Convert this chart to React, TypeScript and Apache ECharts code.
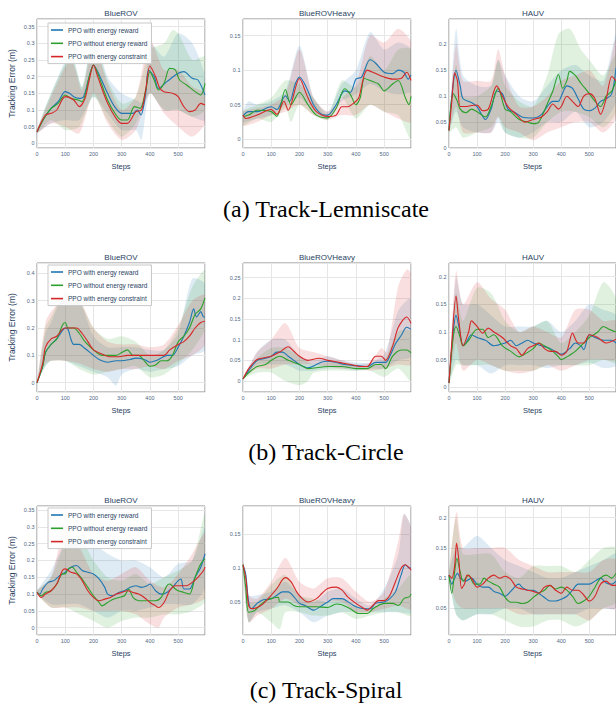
import React, { useEffect, useRef } from "react";
import * as echarts from "echarts";

type Pt = [number, number];

// ---------- (a) Track-Lemniscate ----------
const lemRovRew: Pt[] = [[0,0.035],[25,0.075],[50,0.105],[75,0.125],[100,0.155],[115,0.15],[130,0.14],[150,0.135],[165,0.14],[185,0.2],[200,0.235],[215,0.215],[250,0.15],[275,0.11],[300,0.09],[340,0.09],[355,0.1],[368,0.085],[385,0.15],[395,0.22],[415,0.2],[430,0.165],[460,0.185],[500,0.21],[520,0.215],[550,0.195],[570,0.19],[595,0.145]];
const lemRovNo: Pt[] = [[0,0.035],[25,0.075],[50,0.105],[75,0.12],[100,0.145],[120,0.135],[145,0.13],[160,0.125],[185,0.2],[200,0.235],[215,0.21],[250,0.13],[280,0.085],[300,0.07],[320,0.07],[345,0.11],[365,0.105],[385,0.16],[400,0.215],[415,0.19],[430,0.16],[450,0.18],[470,0.225],[490,0.22],[505,0.19],[530,0.175],[560,0.155],[580,0.145],[595,0.18]];
const lemRovCon: Pt[] = [[0,0.035],[30,0.085],[50,0.09],[70,0.1],[100,0.14],[130,0.13],[150,0.11],[170,0.135],[185,0.19],[200,0.235],[215,0.2],[250,0.12],[280,0.075],[300,0.06],[320,0.06],[350,0.095],[370,0.1],[385,0.16],[400,0.232],[420,0.2],[435,0.165],[450,0.155],[480,0.15],[500,0.14],[520,0.11],[540,0.095],[560,0.1],[580,0.12],[595,0.115]];
const lemRovRewHi: Pt[] = [[0,0.04],[50,0.15],[120,0.27],[160,0.17],[200,0.33],[250,0.2],[300,0.15],[350,0.13],[380,0.12],[400,0.3],[450,0.26],[500,0.33],[550,0.3],[595,0.2]];
const lemRovRewLo: Pt[] = [[0,0.03],[50,0.06],[100,0.07],[150,0.07],[200,0.14],[250,0.09],[300,0.04],[350,0.04],[370,0.01],[400,0.15],[450,0.1],[500,0.1],[550,0.08],[595,0.07]];
const lemRovNoHi: Pt[] = [[0,0.04],[50,0.15],[120,0.26],[160,0.17],[200,0.32],[250,0.19],[300,0.12],[350,0.14],[400,0.28],[450,0.3],[480,0.34],[500,0.33],[550,0.25],[595,0.26]];
const lemRovNoLo: Pt[] = [[0,0.03],[50,0.07],[100,0.04],[150,0.05],[200,0.14],[250,0.07],[300,0.02],[350,0.06],[400,0.15],[450,0.1],[500,0.1],[550,0.08],[595,0.1]];
const lemRovConHi: Pt[] = [[0,0.04],[50,0.14],[120,0.25],[160,0.16],[200,0.3],[250,0.18],[300,0.1],[350,0.14],[400,0.31],[450,0.22],[500,0.22],[550,0.17],[595,0.15]];
const lemRovConLo: Pt[] = [[0,0.03],[50,0.06],[100,0.05],[150,0.03],[200,0.15],[250,0.06],[300,0.01],[350,0.04],[400,0.15],[450,0.09],[500,0.05],[550,0.02],[595,0.06]];

const lemHvyRew: Pt[] = [[0,0.034],[20,0.04],[50,0.04],[100,0.047],[120,0.043],[150,0.063],[165,0.055],[185,0.08],[200,0.09],[230,0.07],[250,0.05],[280,0.036],[300,0.035],[330,0.05],[360,0.07],[380,0.068],[400,0.087],[420,0.09],[450,0.115],[470,0.11],[500,0.097],[530,0.095],[550,0.1],[570,0.097],[585,0.087],[595,0.093]];
const lemHvyNo: Pt[] = [[0,0.033],[20,0.035],[50,0.042],[100,0.04],[120,0.033],[150,0.072],[170,0.05],[200,0.068],[230,0.05],[260,0.035],[300,0.031],[330,0.045],[360,0.073],[380,0.065],[400,0.05],[415,0.06],[430,0.088],[450,0.085],[480,0.08],[500,0.07],[530,0.08],[550,0.085],[575,0.06],[588,0.05],[595,0.062]];
const lemHvyCon: Pt[] = [[0,0.035],[10,0.03],[50,0.035],[100,0.043],[120,0.036],[145,0.055],[160,0.042],[200,0.088],[230,0.06],[260,0.04],[300,0.033],[330,0.035],[350,0.047],[370,0.047],[400,0.055],[410,0.06],[440,0.1],[470,0.095],[500,0.09],[530,0.087],[560,0.088],[580,0.097],[595,0.085]];
const lemHvyRewHi: Pt[] = [[0,0.04],[20,0.055],[50,0.05],[100,0.055],[150,0.07],[200,0.135],[250,0.06],[300,0.04],[350,0.08],[400,0.1],[450,0.155],[500,0.13],[550,0.14],[595,0.13]];
const lemHvyRewLo: Pt[] = [[0,0.025],[50,0.03],[100,0.035],[150,0.05],[200,0.06],[250,0.04],[300,0.03],[350,0.055],[400,0.065],[450,0.08],[500,0.07],[550,0.065],[595,0.07]];
const lemHvyNoHi: Pt[] = [[0,0.04],[50,0.05],[100,0.06],[150,0.085],[200,0.08],[250,0.06],[300,0.035],[350,0.085],[400,0.075],[450,0.12],[500,0.1],[550,0.13],[595,0.13]];
const lemHvyNoLo: Pt[] = [[0,0.02],[50,0.03],[100,0.025],[150,0.045],[170,0.025],[200,0.05],[250,0.035],[300,0.028],[350,0.06],[400,0.03],[450,0.05],[500,0.04],[550,0.035],[580,0.01],[595,0.0]];
const lemHvyConHi: Pt[] = [[0,0.04],[50,0.045],[100,0.05],[150,0.065],[200,0.13],[250,0.06],[300,0.04],[350,0.06],[400,0.08],[450,0.15],[500,0.14],[550,0.16],[595,0.14]];
const lemHvyConLo: Pt[] = [[0,0.02],[50,0.025],[100,0.035],[150,0.04],[200,0.05],[250,0.035],[300,0.028],[350,0.035],[400,0.035],[450,0.05],[500,0.04],[550,0.03],[595,0.025]];

const lemHauvRew: Pt[] = [[0,0.034],[10,0.1],[25,0.15],[40,0.12],[50,0.095],[80,0.088],[100,0.08],[130,0.055],[150,0.075],[170,0.11],[190,0.105],[210,0.075],[230,0.07],[260,0.06],[300,0.058],[330,0.065],[350,0.08],[370,0.09],[390,0.09],[400,0.1],[420,0.12],[440,0.115],[460,0.095],[480,0.075],[500,0.072],[520,0.077],[540,0.09],[560,0.095],[580,0.105],[595,0.155]];
const lemHauvNo: Pt[] = [[0,0.034],[15,0.105],[30,0.09],[40,0.075],[60,0.068],[80,0.075],[100,0.07],[130,0.06],[150,0.08],[175,0.115],[200,0.075],[220,0.07],[250,0.055],[280,0.05],[300,0.047],[320,0.05],[350,0.085],[370,0.11],[390,0.142],[405,0.115],[420,0.13],[430,0.148],[450,0.14],[470,0.125],[500,0.105],[520,0.09],[540,0.08],[560,0.1],[580,0.11],[595,0.13]];
const lemHauvCon: Pt[] = [[0,0.034],[10,0.09],[20,0.145],[30,0.13],[40,0.08],[60,0.08],[80,0.082],[100,0.083],[120,0.072],[140,0.075],[170,0.12],[190,0.1],[210,0.08],[240,0.065],[270,0.05],[300,0.055],[330,0.06],[350,0.07],[370,0.085],[390,0.075],[400,0.08],[420,0.1],[440,0.09],[460,0.08],[480,0.1],[500,0.105],[520,0.095],[540,0.065],[560,0.095],[580,0.138],[595,0.13]];
const lemHauvRewHi: Pt[] = [[0,0.04],[25,0.23],[50,0.14],[100,0.12],[150,0.12],[175,0.17],[200,0.14],[250,0.1],[300,0.09],[350,0.12],[400,0.15],[450,0.16],[500,0.14],[550,0.13],[595,0.22]];
const lemHauvRewLo: Pt[] = [[0,0.03],[25,0.07],[50,0.04],[100,0.03],[150,0.03],[175,0.05],[200,0.03],[250,0.02],[300,0.03],[350,0.05],[400,0.05],[450,0.07],[500,0.04],[550,0.05],[595,0.09]];
const lemHauvNoHi: Pt[] = [[0,0.04],[25,0.16],[50,0.1],[100,0.1],[150,0.12],[175,0.17],[200,0.12],[250,0.09],[300,0.08],[350,0.14],[390,0.22],[430,0.23],[470,0.19],[500,0.17],[550,0.14],[595,0.18]];
const lemHauvNoLo: Pt[] = [[0,0.03],[25,0.04],[50,0.02],[100,0.03],[150,0.04],[175,0.06],[200,0.03],[250,0.02],[300,0.02],[350,0.05],[400,0.07],[450,0.07],[500,0.06],[550,0.04],[595,0.07]];
const lemHauvConHi: Pt[] = [[0,0.04],[25,0.2],[50,0.13],[100,0.13],[150,0.13],[175,0.19],[200,0.14],[250,0.08],[300,0.08],[350,0.1],[400,0.13],[450,0.14],[500,0.15],[550,0.12],[595,0.21]];
const lemHauvConLo: Pt[] = [[0,0.03],[25,0.08],[50,0.03],[100,0.03],[150,0.03],[175,0.06],[200,0.04],[250,0.03],[300,0.015],[350,0.03],[400,0.04],[450,0.05],[500,0.05],[550,0.03],[595,0.06]];

// ---------- (b) Track-Circle ----------
const cirRovRew: Pt[] = [[0,0],[20,0.06],[30,0.11],[50,0.14],[70,0.16],[90,0.19],[100,0.2],[110,0.195],[120,0.16],[130,0.14],[150,0.14],[170,0.125],[200,0.1],[220,0.085],[250,0.075],[280,0.08],[300,0.08],[330,0.085],[350,0.09],[380,0.085],[400,0.075],[420,0.08],[440,0.09],[460,0.1],[480,0.1],[500,0.13],[520,0.17],[540,0.22],[555,0.27],[565,0.24],[580,0.26],[590,0.24],[595,0.24]];
const cirRovNo: Pt[] = [[0,0],[20,0.06],[30,0.11],[50,0.14],[70,0.16],[90,0.21],[100,0.22],[110,0.2],[130,0.2],[150,0.18],[170,0.15],[200,0.12],[230,0.1],[250,0.1],[280,0.1],[300,0.11],[320,0.12],[340,0.1],[360,0.1],[380,0.08],[400,0.06],[420,0.065],[440,0.08],[460,0.08],[480,0.1],[500,0.15],[520,0.17],[540,0.2],[560,0.25],[580,0.27],[595,0.31]];
const cirRovCon: Pt[] = [[0,0],[20,0.07],[30,0.13],[50,0.16],[70,0.17],[90,0.195],[100,0.2],[120,0.2],[140,0.2],[160,0.18],[180,0.15],[200,0.12],[230,0.105],[260,0.095],[290,0.095],[320,0.1],[350,0.1],[380,0.1],[400,0.1],[430,0.1],[450,0.1],[470,0.12],[500,0.14],[520,0.15],[540,0.17],[560,0.2],[580,0.22],[595,0.225]];
const cirRovRewHi: Pt[] = [[0,0],[30,0.18],[50,0.22],[100,0.33],[150,0.3],[200,0.17],[250,0.13],[300,0.13],[350,0.13],[400,0.12],[450,0.12],[500,0.18],[550,0.38],[595,0.36]];
const cirRovRewLo: Pt[] = [[0,0],[30,0.06],[50,0.08],[100,0.08],[150,0.06],[200,0.04],[250,0.02],[280,-0.01],[300,0.03],[350,0.05],[400,0.04],[450,0.05],[500,0.06],[550,0.1],[595,0.12]];
const cirRovNoHi: Pt[] = [[0,0],[30,0.2],[50,0.24],[100,0.33],[150,0.3],[200,0.2],[250,0.16],[300,0.17],[350,0.15],[400,0.1],[450,0.12],[500,0.2],[550,0.35],[595,0.41]];
const cirRovNoLo: Pt[] = [[0,0],[30,0.06],[50,0.08],[100,0.08],[150,0.05],[200,0.03],[250,0.04],[300,0.05],[350,0.06],[400,0.02],[450,0.03],[500,0.07],[550,0.12],[595,0.2]];
const cirRovConHi: Pt[] = [[0,0],[30,0.22],[50,0.26],[100,0.31],[150,0.3],[200,0.2],[250,0.15],[300,0.14],[350,0.14],[400,0.13],[450,0.14],[500,0.21],[550,0.3],[595,0.32]];
const cirRovConLo: Pt[] = [[0,0],[30,0.07],[50,0.08],[100,0.08],[150,0.07],[200,0.05],[250,0.04],[300,0.05],[350,0.05],[400,0.06],[450,0.05],[500,0.08],[550,0.1],[595,0.14]];

const cirHvyRew: Pt[] = [[0,0.005],[20,0.025],[50,0.05],[80,0.055],[100,0.06],[120,0.07],[140,0.07],[160,0.06],[180,0.05],[200,0.04],[230,0.032],[260,0.04],[280,0.046],[300,0.048],[330,0.045],[360,0.04],[400,0.037],[440,0.035],[470,0.045],[490,0.045],[505,0.045],[520,0.06],[540,0.09],[560,0.11],[580,0.13],[595,0.125]];
const cirHvyNo: Pt[] = [[0,0.005],[20,0.02],[50,0.035],[80,0.04],[100,0.05],[130,0.06],[160,0.05],[200,0.04],[230,0.03],[260,0.032],[300,0.035],[350,0.035],[400,0.03],[440,0.03],[470,0.04],[490,0.04],[505,0.03],[530,0.06],[560,0.075],[580,0.075],[595,0.068]];
const cirHvyCon: Pt[] = [[0,0.005],[20,0.03],[50,0.052],[80,0.057],[100,0.06],[130,0.07],[160,0.083],[180,0.072],[200,0.06],[230,0.05],[270,0.055],[300,0.05],[340,0.045],[380,0.04],[420,0.035],[440,0.035],[470,0.06],[490,0.06],[505,0.05],[530,0.085],[550,0.13],[580,0.155],[595,0.14]];
const cirHvyRewHi: Pt[] = [[0,0.005],[50,0.07],[100,0.1],[150,0.1],[200,0.06],[250,0.05],[300,0.06],[350,0.05],[400,0.045],[450,0.045],[500,0.065],[550,0.17],[595,0.2]];
const cirHvyRewLo: Pt[] = [[0,0.005],[50,0.04],[100,0.04],[150,0.04],[200,0.025],[250,0.025],[300,0.03],[350,0.03],[400,0.025],[450,0.03],[500,0.03],[550,0.05],[595,0.06]];
const cirHvyNoHi: Pt[] = [[0,0.005],[50,0.055],[100,0.08],[150,0.08],[200,0.06],[250,0.04],[300,0.045],[350,0.045],[400,0.04],[450,0.035],[500,0.05],[550,0.12],[595,0.12]];
const cirHvyNoLo: Pt[] = [[0,0.005],[50,0.02],[100,0.02],[150,0.0],[200,-0.01],[230,0.0],[250,0.02],[300,0.025],[350,0.025],[400,0.025],[450,0.025],[500,0.01],[550,0.03],[595,0.0]];
const cirHvyConHi: Pt[] = [[0,0.005],[50,0.07],[100,0.1],[150,0.14],[200,0.08],[250,0.07],[300,0.06],[350,0.05],[400,0.04],[450,0.045],[490,0.08],[510,0.07],[550,0.23],[580,0.27],[595,0.26]];
const cirHvyConLo: Pt[] = [[0,0.005],[50,0.03],[100,0.03],[150,0.04],[200,0.04],[250,0.04],[300,0.035],[350,0.03],[400,0.03],[450,0.025],[500,0.03],[550,0.04],[595,0.04]];

const cirHauvRew: Pt[] = [[0,0.008],[15,0.1],[25,0.13],[35,0.11],[50,0.075],[60,0.08],[80,0.095],[100,0.09],[130,0.085],[160,0.075],[200,0.08],[220,0.085],[240,0.075],[260,0.08],[280,0.085],[300,0.08],[330,0.075],[360,0.07],[400,0.06],[430,0.07],[450,0.08],[470,0.075],[480,0.068],[500,0.095],[520,0.09],[550,0.085],[580,0.085],[595,0.08]];
const cirHauvNo: Pt[] = [[0,0.008],[15,0.09],[25,0.11],[40,0.09],[50,0.075],[70,0.085],[100,0.105],[120,0.105],[140,0.09],[160,0.095],[190,0.075],[220,0.065],[250,0.055],[270,0.06],[300,0.07],[320,0.08],[340,0.075],[370,0.065],[390,0.055],[400,0.05],[420,0.055],[450,0.065],[480,0.08],[500,0.09],[530,0.1],[550,0.11],[570,0.105],[595,0.1]];
const cirHauvCon: Pt[] = [[0,0.008],[10,0.08],[25,0.165],[35,0.12],[50,0.075],[70,0.1],[80,0.12],[100,0.11],[120,0.098],[140,0.107],[160,0.1],[190,0.09],[220,0.075],[240,0.07],[260,0.058],[280,0.07],[300,0.075],[320,0.08],[340,0.07],[360,0.065],[380,0.065],[400,0.058],[420,0.065],[440,0.098],[460,0.08],[480,0.08],[500,0.095],[530,0.09],[560,0.08],[595,0.087]];
const cirHauvRewHi: Pt[] = [[0,0.01],[25,0.2],[50,0.15],[100,0.15],[150,0.13],[200,0.11],[250,0.11],[300,0.11],[350,0.12],[400,0.1],[450,0.12],[500,0.15],[550,0.14],[595,0.13]];
const cirHauvRewLo: Pt[] = [[0,0.005],[25,0.05],[50,0.04],[100,0.04],[150,0.025],[200,0.04],[250,0.04],[300,0.04],[350,0.035],[400,0.04],[450,0.04],[500,0.045],[550,0.035],[595,0.04]];
const cirHauvNoHi: Pt[] = [[0,0.01],[25,0.17],[50,0.12],[100,0.18],[150,0.17],[200,0.12],[250,0.1],[300,0.11],[350,0.12],[400,0.08],[450,0.1],[500,0.13],[550,0.19],[595,0.16]];
const cirHauvNoLo: Pt[] = [[0,0.005],[25,0.04],[50,0.04],[100,0.04],[150,0.04],[200,0.03],[250,0.03],[300,0.03],[350,0.04],[400,0.04],[450,0.04],[500,0.04],[550,0.05],[595,0.045]];
const cirHauvConHi: Pt[] = [[0,0.01],[25,0.21],[50,0.15],[100,0.19],[150,0.16],[200,0.14],[250,0.1],[300,0.11],[350,0.1],[400,0.09],[450,0.14],[500,0.14],[550,0.12],[595,0.12]];
const cirHauvConLo: Pt[] = [[0,0.005],[25,0.08],[50,0.03],[100,0.05],[150,0.04],[200,0.03],[250,0.025],[300,0.03],[350,0.04],[400,0.03],[450,0.04],[500,0.05],[550,0.05],[595,0.05]];

// ---------- (c) Track-Spiral ----------
const spiRovRew: Pt[] = [[0,0.105],[10,0.1],[20,0.115],[40,0.135],[60,0.14],[80,0.155],[100,0.165],[120,0.18],[140,0.185],[160,0.17],[180,0.165],[200,0.16],[220,0.145],[240,0.12],[250,0.1],[270,0.095],[290,0.105],[310,0.11],[330,0.12],[350,0.125],[370,0.12],[390,0.125],[400,0.13],[420,0.11],[440,0.1],[460,0.105],[480,0.12],[500,0.14],[510,0.145],[520,0.115],[540,0.115],[560,0.15],[580,0.18],[595,0.22]];
const spiRovNo: Pt[] = [[0,0.105],[15,0.095],[30,0.105],[50,0.11],[70,0.13],[90,0.16],[100,0.16],[110,0.175],[125,0.18],[140,0.165],[160,0.145],[180,0.12],[200,0.095],[220,0.075],[230,0.065],[250,0.075],[270,0.085],[290,0.09],[310,0.095],[325,0.115],[340,0.09],[360,0.08],[380,0.08],[400,0.08],[420,0.08],[440,0.09],[460,0.125],[470,0.13],[490,0.115],[500,0.11],[520,0.105],[540,0.1],[560,0.15],[580,0.19],[595,0.205]];
const spiRovCon: Pt[] = [[0,0.105],[15,0.09],[30,0.1],[50,0.11],[70,0.13],[90,0.17],[100,0.175],[120,0.165],[140,0.16],[160,0.14],[180,0.11],[200,0.09],[220,0.08],[240,0.085],[260,0.09],[280,0.1],[300,0.105],[320,0.11],[340,0.105],[360,0.1],[380,0.09],[400,0.075],[420,0.065],[430,0.06],[450,0.075],[470,0.11],[490,0.125],[510,0.125],[530,0.125],[550,0.135],[570,0.15],[590,0.17],[595,0.18]];
const spiRovRewHi: Pt[] = [[0,0.11],[50,0.17],[100,0.25],[150,0.26],[200,0.25],[250,0.22],[300,0.2],[350,0.2],[400,0.18],[450,0.15],[500,0.19],[550,0.2],[595,0.3]];
const spiRovRewLo: Pt[] = [[0,0.1],[50,0.07],[100,0.07],[150,0.07],[200,0.05],[250,0.03],[300,0.05],[350,0.05],[400,0.06],[450,0.07],[500,0.07],[550,0.07],[595,0.12]];
const spiRovNoHi: Pt[] = [[0,0.11],[50,0.15],[100,0.25],[150,0.27],[200,0.2],[250,0.15],[300,0.14],[350,0.16],[400,0.13],[450,0.15],[500,0.17],[550,0.2],[595,0.34]];
const spiRovNoLo: Pt[] = [[0,0.1],[50,0.06],[100,0.06],[150,0.04],[200,0.02],[250,0.0],[300,0.02],[350,0.03],[400,0.03],[450,0.04],[500,0.04],[550,0.05],[595,0.08]];
const spiRovConHi: Pt[] = [[0,0.11],[50,0.15],[100,0.3],[150,0.24],[200,0.16],[250,0.14],[300,0.16],[350,0.18],[400,0.14],[450,0.12],[500,0.16],[550,0.22],[595,0.28]];
const spiRovConLo: Pt[] = [[0,0.1],[50,0.06],[100,0.06],[150,0.06],[200,0.05],[250,0.05],[300,0.05],[350,0.04],[400,0.01],[430,0.0],[450,0.03],[500,0.06],[550,0.07],[595,0.09]];

const spiHvyRew: Pt[] = [[0,0.105],[10,0.09],[20,0.05],[30,0.04],[50,0.048],[70,0.053],[100,0.055],[120,0.06],[140,0.065],[160,0.065],[180,0.058],[200,0.048],[220,0.045],[250,0.038],[280,0.045],[300,0.05],[320,0.055],[350,0.055],[380,0.048],[400,0.043],[430,0.04],[450,0.04],[470,0.048],[500,0.05],[520,0.055],[540,0.065],[560,0.09],[575,0.105],[590,0.1],[595,0.1]];
const spiHvyNo: Pt[] = [[0,0.105],[10,0.07],[20,0.035],[40,0.037],[60,0.045],[80,0.052],[100,0.055],[125,0.057],[130,0.05],[160,0.05],[180,0.045],[200,0.043],[230,0.043],[260,0.043],[300,0.042],[330,0.047],[350,0.046],[380,0.04],[410,0.033],[440,0.033],[460,0.04],[480,0.045],[500,0.048],[530,0.048],[550,0.045],[570,0.055],[590,0.058],[595,0.062]];
const spiHvyCon: Pt[] = [[0,0.105],[10,0.085],[20,0.045],[30,0.04],[50,0.042],[70,0.047],[100,0.06],[120,0.07],[140,0.083],[150,0.086],[170,0.08],[190,0.065],[210,0.055],[230,0.05],[260,0.055],[280,0.063],[300,0.07],[330,0.072],[350,0.068],[370,0.058],[400,0.048],[430,0.04],[440,0.038],[460,0.045],[480,0.052],[500,0.052],[520,0.06],[540,0.08],[560,0.1],[575,0.105],[590,0.1],[595,0.097]];
const spiHvyRewHi: Pt[] = [[0,0.11],[20,0.06],[50,0.06],[100,0.065],[150,0.08],[200,0.06],[250,0.05],[300,0.065],[350,0.07],[400,0.055],[450,0.045],[500,0.07],[550,0.12],[570,0.18],[595,0.16]];
const spiHvyRewLo: Pt[] = [[0,0.1],[20,0.02],[50,0.035],[100,0.04],[150,0.045],[200,0.035],[250,0.02],[300,0.03],[350,0.035],[400,0.035],[450,0.035],[500,0.035],[550,0.035],[595,0.035]];
const spiHvyNoHi: Pt[] = [[0,0.11],[20,0.05],[50,0.05],[100,0.075],[150,0.09],[200,0.06],[250,0.055],[300,0.05],[350,0.055],[400,0.045],[450,0.04],[500,0.055],[550,0.07],[595,0.09]];
const spiHvyNoLo: Pt[] = [[0,0.1],[20,0.02],[50,0.035],[100,0.02],[130,0.01],[150,0.035],[200,0.035],[250,0.03],[300,0.03],[350,0.035],[400,0.025],[450,0.03],[500,0.035],[550,0.035],[595,0.03]];
const spiHvyConHi: Pt[] = [[0,0.11],[20,0.06],[50,0.055],[100,0.08],[150,0.115],[200,0.08],[250,0.07],[300,0.085],[350,0.085],[400,0.065],[450,0.05],[500,0.065],[550,0.14],[570,0.18],[595,0.16]];
const spiHvyConLo: Pt[] = [[0,0.1],[20,0.02],[50,0.03],[100,0.04],[150,0.055],[200,0.045],[250,0.04],[300,0.05],[350,0.05],[400,0.035],[450,0.035],[500,0.04],[550,0.045],[595,0.04]];

const spiHauvRew: Pt[] = [[0,0.105],[10,0.09],[20,0.1],[30,0.108],[40,0.1],[60,0.095],[80,0.1],[100,0.09],[120,0.085],[140,0.085],[160,0.078],[180,0.075],[200,0.07],[220,0.078],[240,0.088],[250,0.09],[260,0.085],[280,0.08],[300,0.08],[320,0.075],[340,0.068],[360,0.062],[380,0.062],[400,0.065],[420,0.07],[440,0.08],[460,0.09],[480,0.09],[500,0.09],[520,0.095],[540,0.1],[560,0.092],[580,0.09],[595,0.095]];
const spiHauvNo: Pt[] = [[0,0.105],[10,0.075],[20,0.11],[28,0.133],[40,0.11],[50,0.095],[70,0.105],[90,0.09],[110,0.09],[125,0.1],[140,0.095],[160,0.09],[180,0.085],[200,0.068],[220,0.06],[240,0.06],[260,0.058],[280,0.06],[300,0.068],[320,0.075],[340,0.08],[360,0.088],[380,0.082],[400,0.085],[420,0.08],[440,0.07],[460,0.058],[480,0.062],[500,0.07],[520,0.085],[540,0.1],[560,0.105],[580,0.1],[595,0.108]];
const spiHauvCon: Pt[] = [[0,0.105],[10,0.1],[20,0.12],[27,0.158],[35,0.13],[45,0.083],[55,0.09],[65,0.105],[80,0.1],[100,0.085],[120,0.09],[140,0.1],[160,0.105],[180,0.1],[200,0.103],[220,0.098],[240,0.085],[260,0.082],[280,0.08],[300,0.078],[320,0.075],[340,0.085],[360,0.088],[380,0.08],[400,0.075],[420,0.085],[440,0.08],[460,0.08],[480,0.072],[500,0.062],[520,0.07],[540,0.09],[560,0.095],[580,0.088],[595,0.088]];
const spiHauvRewHi: Pt[] = [[0,0.11],[25,0.15],[50,0.15],[100,0.17],[150,0.15],[200,0.13],[250,0.12],[300,0.11],[350,0.1],[400,0.1],[450,0.11],[500,0.12],[550,0.13],[595,0.14]];
const spiHauvRewLo: Pt[] = [[0,0.1],[25,0.04],[50,0.03],[100,0.04],[150,0.04],[200,0.05],[250,0.05],[300,0.04],[350,0.04],[400,0.04],[450,0.04],[500,0.05],[550,0.05],[595,0.05]];
const spiHauvNoHi: Pt[] = [[0,0.11],[25,0.2],[50,0.14],[100,0.14],[150,0.14],[200,0.11],[250,0.1],[300,0.12],[350,0.12],[400,0.12],[450,0.11],[500,0.13],[550,0.15],[595,0.15]];
const spiHauvNoLo: Pt[] = [[0,0.1],[25,0.04],[50,0.03],[100,0.04],[150,0.04],[200,0.03],[250,0.02],[300,0.02],[350,0.03],[400,0.03],[450,0.02],[500,0.03],[550,0.05],[595,0.06]];
const spiHauvConHi: Pt[] = [[0,0.11],[27,0.21],[50,0.15],[100,0.15],[150,0.15],[200,0.15],[250,0.13],[300,0.12],[350,0.11],[400,0.11],[450,0.11],[500,0.11],[550,0.13],[595,0.13]];
const spiHauvConLo: Pt[] = [[0,0.1],[25,0.06],[50,0.05],[100,0.05],[150,0.05],[200,0.05],[250,0.04],[300,0.04],[350,0.04],[400,0.04],[450,0.04],[500,0.03],[550,0.05],[595,0.05]];

const SERIES_NAMES = ["PPO with energy reward", "PPO without energy reward", "PPO with energy constraint"];
const PANEL_TITLES = ["BlueROV", "BlueROVHeavy", "HAUV"];
const CAPTIONS = ["(a) Track-Lemniscate", "(b) Track-Circle", "(c) Track-Spiral"];
const X_TICK_STEP = 100;

interface Panel {
  row: number; col: number;
  yMin: number; yMax: number; yStep: number;
  lines: Pt[][]; bands: [Pt[], Pt[]][];
}

const PANELS: Panel[] = [
  { row: 0, col: 0, yMin: -0.014, yMax: 0.373, yStep: 0.05, lines: [lemRovRew, lemRovNo, lemRovCon], bands: [[lemRovRewHi, lemRovRewLo], [lemRovNoHi, lemRovNoLo], [lemRovConHi, lemRovConLo]] },
  { row: 0, col: 1, yMin: -0.0126, yMax: 0.174, yStep: 0.05, lines: [lemHvyRew, lemHvyNo, lemHvyCon], bands: [[lemHvyRewHi, lemHvyRewLo], [lemHvyNoHi, lemHvyNoLo], [lemHvyConHi, lemHvyConLo]] },
  { row: 0, col: 2, yMin: 0, yMax: 0.249, yStep: 0.05, lines: [lemHauvRew, lemHauvNo, lemHauvCon], bands: [[lemHauvRewHi, lemHauvRewLo], [lemHauvNoHi, lemHauvNoLo], [lemHauvConHi, lemHauvConLo]] },
  { row: 1, col: 0, yMin: -0.034, yMax: 0.4377, yStep: 0.1, lines: [cirRovRew, cirRovNo, cirRovCon], bands: [[cirRovRewHi, cirRovRewLo], [cirRovNoHi, cirRovNoLo], [cirRovConHi, cirRovConLo]] },
  { row: 1, col: 1, yMin: -0.0266, yMax: 0.2856, yStep: 0.05, lines: [cirHvyRew, cirHvyNo, cirHvyCon], bands: [[cirHvyRewHi, cirHvyRewLo], [cirHvyNoHi, cirHvyNoLo], [cirHvyConHi, cirHvyConLo]] },
  { row: 1, col: 2, yMin: -0.0085, yMax: 0.2247, yStep: 0.05, lines: [cirHauvRew, cirHauvNo, cirHauvCon], bands: [[cirHauvRewHi, cirHauvRewLo], [cirHauvNoHi, cirHauvNoLo], [cirHauvConHi, cirHauvConLo]] },
  { row: 2, col: 0, yMin: -0.0217, yMax: 0.362, yStep: 0.05, lines: [spiRovRew, spiRovNo, spiRovCon], bands: [[spiRovRewHi, spiRovRewLo], [spiRovNoHi, spiRovNoLo], [spiRovConHi, spiRovConLo]] },
  { row: 2, col: 1, yMin: 0.0013, yMax: 0.1918, yStep: 0.05, lines: [spiHvyRew, spiHvyNo, spiHvyCon], bands: [[spiHvyRewHi, spiHvyRewLo], [spiHvyNoHi, spiHvyNoLo], [spiHvyConHi, spiHvyConLo]] },
  { row: 2, col: 2, yMin: 0.0058, yMax: 0.2194, yStep: 0.05, lines: [spiHauvRew, spiHauvNo, spiHauvCon], bands: [[spiHauvRewHi, spiHauvRewLo], [spiHauvNoHi, spiHauvNoLo], [spiHauvConHi, spiHauvConLo]] },
];

const LINE_COLORS = ["#1f77b4", "#2ca02c", "#d62728"];
const BAND_COLORS = ["rgba(31,119,180,0.15)", "rgba(44,160,44,0.15)", "rgba(214,39,40,0.15)"];
const COL_LEFT = [37, 243, 449];
const ROW_TOP = [19, 263, 506];
const GRID_W = 168;
const GRID_H = 129;
const X_MAX = 595;
const SANS = "'Liberation Sans', Arial, Helvetica, sans-serif";
const SERIF = "'Liberation Serif', 'Times New Roman', serif";
const TICK_COLOR = "#506784";
const TITLE_COLOR = "#2a3f5f";

function buildOption() {
  const grid: any[] = [];
  const xAxis: any[] = [];
  const yAxis: any[] = [];
  const series: any[] = [];
  PANELS.forEach((p, i) => {
    grid.push({
      left: COL_LEFT[p.col], top: ROW_TOP[p.row], width: GRID_W, height: GRID_H,
      show: true, backgroundColor: "#ffffff", borderColor: "#8a8a8a", borderWidth: 1,
    });
    xAxis.push({
      gridIndex: i, type: "value", min: 0, max: X_MAX,
      minInterval: X_TICK_STEP, maxInterval: X_TICK_STEP,
      name: "Steps", nameLocation: "middle", nameGap: 14,
      nameTextStyle: { fontSize: 7.5, color: TITLE_COLOR, fontFamily: SANS },
      axisLine: { show: false }, axisTick: { show: false },
      axisLabel: { fontSize: 5.5, color: TICK_COLOR, margin: 3, showMaxLabel: false, fontFamily: SANS },
      splitLine: { show: true, lineStyle: { color: "#e6e6e6", width: 1 } },
    });
    yAxis.push({
      gridIndex: i, type: "value", min: p.yMin, max: p.yMax,
      minInterval: p.yStep, maxInterval: p.yStep,
      name: p.col === 0 ? "Tracking Error (m)" : "",
      nameLocation: "middle", nameGap: 21, nameRotate: 90,
      nameTextStyle: { fontSize: 8.5, color: TITLE_COLOR, fontFamily: SANS },
      axisLine: { show: false }, axisTick: { show: false },
      axisLabel: { fontSize: 5.5, color: TICK_COLOR, margin: 2.5, showMinLabel: p.yMin === 0, showMaxLabel: false, fontFamily: SANS },
      splitLine: { show: true, lineStyle: { color: "#e6e6e6", width: 1 } },
    });
    p.bands.forEach(([hi, lo], k) => {
      series.push({
        type: "custom", name: `band-${i}-${k}`, xAxisIndex: i, yAxisIndex: i,
        data: [[0, 0]], clip: true, silent: true, z: 1,
        renderItem: (_params: any, api: any) => {
          const up = hi.map((pt) => api.coord(pt));
          const dn = lo.slice().reverse().map((pt) => api.coord(pt));
          return {
            type: "polygon",
            shape: { points: up.concat(dn), smooth: 0.25 },
            style: { fill: BAND_COLORS[k], stroke: "none" },
          };
        },
      });
    });
    p.lines.forEach((ln, k) => {
      series.push({
        type: "line", name: SERIES_NAMES[k], xAxisIndex: i, yAxisIndex: i,
        data: ln, symbol: "none", showSymbol: false, smooth: 0.3, z: 3,
        lineStyle: { color: LINE_COLORS[k], width: 1.1 },
        itemStyle: { color: LINE_COLORS[k] },
      });
    });
  });

  const graphic: any[] = [];
  PANELS.forEach((p) => {
    graphic.push({
      type: "text", x: COL_LEFT[p.col] + GRID_W / 2, y: ROW_TOP[p.row] - 5.5, silent: true,
      style: { text: PANEL_TITLES[p.col], fontSize: 8, fontWeight: "normal", fontFamily: SANS, fill: TITLE_COLOR, align: "center", verticalAlign: "middle" },
    });
  });
  const capY = [209, 452, 690];
  CAPTIONS.forEach((c, r) => {
    graphic.push({
      type: "text", x: 326, y: capY[r], silent: true,
      style: { text: c, fontSize: 24, fontWeight: "normal", fontFamily: SERIF, fill: "#000000", align: "center", verticalAlign: "middle" },
    });
  });

  const legendTop = [23, 265, 508];
  const legend = legendTop.map((t) => ({
    data: SERIES_NAMES, orient: "vertical", left: 48, top: t,
    icon: "rect", itemWidth: 12, itemHeight: 1.6, itemGap: 5.3,
    padding: [3, 4, 3, 3], backgroundColor: "rgba(255,255,255,0.9)",
    borderColor: "#c8c8c8", borderWidth: 1, selectedMode: false,
    textStyle: { fontSize: 6.5, color: TITLE_COLOR, lineHeight: 8, fontFamily: SANS },
  }));

  return { animation: false, backgroundColor: "#ffffff", textStyle: { fontFamily: SANS }, grid, xAxis, yAxis, series, graphic, legend };
}

export default function App() {
  const ref = useRef<HTMLDivElement>(null);
  useEffect(() => {
    document.body.style.margin = "0";
    if (!ref.current) return;
    const chart = echarts.init(ref.current, undefined, { renderer: "svg" });
    chart.setOption(buildOption() as any);
    return () => chart.dispose();
  }, []);
  return <div ref={ref} style={{ width: 616, height: 709 }} />;
}
